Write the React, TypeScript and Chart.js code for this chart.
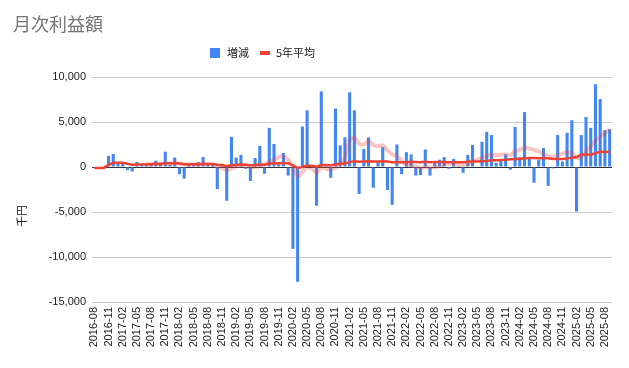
import { useEffect, useRef } from 'react';
import { Chart, registerables } from 'chart.js';

Chart.register(...registerables);

const months = [
  '2016-08', '2016-09', '2016-10', '2016-11', '2016-12',
  '2017-01', '2017-02', '2017-03', '2017-04', '2017-05', '2017-06', '2017-07', '2017-08', '2017-09', '2017-10', '2017-11', '2017-12',
  '2018-01', '2018-02', '2018-03', '2018-04', '2018-05', '2018-06', '2018-07', '2018-08', '2018-09', '2018-10', '2018-11', '2018-12',
  '2019-01', '2019-02', '2019-03', '2019-04', '2019-05', '2019-06', '2019-07', '2019-08', '2019-09', '2019-10', '2019-11', '2019-12',
  '2020-01', '2020-02', '2020-03', '2020-04', '2020-05', '2020-06', '2020-07', '2020-08', '2020-09', '2020-10', '2020-11', '2020-12',
  '2021-01', '2021-02', '2021-03', '2021-04', '2021-05', '2021-06', '2021-07', '2021-08', '2021-09', '2021-10', '2021-11', '2021-12',
  '2022-01', '2022-02', '2022-03', '2022-04', '2022-05', '2022-06', '2022-07', '2022-08', '2022-09', '2022-10', '2022-11', '2022-12',
  '2023-01', '2023-02', '2023-03', '2023-04', '2023-05', '2023-06', '2023-07', '2023-08', '2023-09', '2023-10', '2023-11', '2023-12',
  '2024-01', '2024-02', '2024-03', '2024-04', '2024-05', '2024-06', '2024-07', '2024-08', '2024-09', '2024-10', '2024-11', '2024-12',
  '2025-01', '2025-02', '2025-03', '2025-04', '2025-05', '2025-06', '2025-07', '2025-08', '2025-09',
];

// 増減 (千円)
const change = [
  -100, -100, -100, 1250, 1450, 350, 450, -350, -500, 550,
  300, 400, 300, 700, 500, 1700, 250, 1050, -800, -1300,
  350, 200, 550, 1100, 250, 350, -2450, 200, -3750, 3350,
  1050, 1350, -200, -1550, 1000, 2350, -750, 4350, 2550, 400,
  1550, -950, -9100, -12750, 4500, 6300, 100, -4300, 8400, 150,
  -1200, 6500, 2400, 3300, 8300, 6300, -3000, 2000, 3300, -2300,
  600, 2200, -2550, -4200, 2500, -800, 1650, 1400, -950, -900,
  1950, -950, 500, 800, 1100, -200, 900, 100, -650, 1350,
  2450, 0, 2800, 3900, 3550, 450, 800, 1400, -300, 4450,
  1100, 6100, 1000, -1750, 800, 2100, -2100, -150, 3550, 600,
  3800, 5200, -4950, 3550, 5550, 4350, 9200, 7550, 4100, 4200,
];

// 5年平均 (千円)
const avg5 = [
  -100, -100, -100, 250, 480, 460, 460, 360, 260, 290,
  290, 300, 300, 330, 340, 430, 420, 450, 380, 300,
  300, 300, 310, 340, 340, 340, 240, 230, 100, 200,
  230, 270, 250, 200, 230, 280, 250, 360, 420, 420,
  450, 410, 190, -100, 0, 140, 140, 40, 210, 210,
  180, 310, 350, 400, 540, 650, 580, 610, 650, 600,
  620, 650, 610, 520, 540, 520, 540, 570, 560, 540,
  570, 540, 550, 550, 560, 530, 540, 520, 520, 570,
  600, 600, 640, 680, 740, 740, 790, 810, 870, 890,
  890, 970, 990, 990, 980, 980, 960, 880, 900, 900,
  940, 1040, 1110, 1380, 1400, 1370, 1520, 1720, 1650, 1710,
];

// light moving-average trend line (千円)
const trend = [
  null, null, null, null, null, null, null, null, null, null,
  null, 300, 330, 400, 340, 360, 350, 400, 360, 300,
  280, 270, 280, 350, 310, 300, 0, -100, -350, -150,
  50, 150, 150, 0, 0, 150, 250, 550, 800, 1100,
  1200, 800, 50, -1050, -550, -50, -200, -600, -100, -200,
  -250, -100, 250, 1050, 2900, 3250, 2600, 2500, 2850, 2450,
  2300, 2400, 1850, 1400, 1200, 700, 250, 150, 50, -100,
  0, -50, -50, 100, 350, 350, 300, 300, 200, 350,
  600, 800, 1000, 1250, 1350, 1300, 1350, 1400, 1350, 1750,
  1900, 2150, 2050, 1900, 1700, 1450, 1200, 1100, 1300, 1450,
  1650, 1500, 1000, 1100, 1700, 2300, 2900, 3400, 3800, 4150,
];

const yTicks = [-15000, -10000, -5000, 0, 5000, 10000];

const FONT = '"Liberation Sans", Arial, "Noto Sans CJK JP", sans-serif';
const CJK = '"Noto Sans CJK JP", "Liberation Sans", sans-serif';

export default function App() {
  const ref = useRef<HTMLCanvasElement>(null);

  useEffect(() => {
    document.body.style.margin = '0';
    const decor = {
      id: 'decor',
      afterDraw(chart: any) {
        const c = chart.ctx;
        c.save();
        c.font = '18px ' + CJK;
        c.fillStyle = '#757575';
        c.textBaseline = 'middle';
        c.textAlign = 'left';
        c.fillText('月次利益額', 13, 24);

        c.font = '11px ' + CJK;
        c.fillStyle = '#4285F4';
        c.fillRect(210, 48, 10, 10);
        c.fillStyle = '#222222';
        c.fillText('増減', 227, 53);
        c.fillStyle = '#EA4335';
        c.fillRect(260, 51, 10, 4);
        c.fillStyle = '#222222';
        c.fillText('5年平均', 276, 53);

        c.translate(22, 216);
        c.rotate(-Math.PI / 2);
        c.textAlign = 'center';
        c.fillText('千円', 0, 0);
        c.restore();
      },
    };

    const chart = new Chart(ref.current as HTMLCanvasElement, {
      type: 'bar',
      data: {
        labels: months,
        datasets: [
          {
            type: 'line',
            label: '5年平均',
            data: avg5,
            borderColor: '#EA4335',
            borderWidth: 2.5,
            pointRadius: 0,
            tension: 0,
            order: 1,
          },
          {
            type: 'line',
            label: 'trend',
            data: trend as any,
            borderColor: 'rgba(234,67,53,0.3)',
            borderWidth: 4,
            pointRadius: 0,
            tension: 0.4,
            order: 2,
          },
          {
            type: 'bar',
            label: '増減',
            data: change,
            backgroundColor: '#4285F4',
            barPercentage: 0.65,
            categoryPercentage: 1,
            order: 3,
          },
        ] as any,
      },
      options: {
        responsive: false,
        animation: false,
        layout: { padding: { top: 77, right: 17, left: 0, bottom: 0 } },
        plugins: {
          legend: { display: false },
          title: { display: false },
          tooltip: { enabled: false },
        },
        scales: {
          x: {
            grid: { display: false, drawTicks: false },
            border: { display: false },
            ticks: {
              autoSkip: false,
              minRotation: 90,
              maxRotation: 90,
              padding: 5,
              color: '#222222',
              font: { family: FONT, size: 11 },
              callback: (_v: any, i: number) => (i % 3 === 0 ? months[i] : ''),
            },
            afterFit: (s: any) => {
              s.height = 66;
            },
          },
          y: {
            min: -15000,
            max: 10000,
            afterBuildTicks: (s: any) => {
              s.ticks = yTicks.map((v) => ({ value: v }));
            },
            grid: {
              drawTicks: false,
              color: (ctx: any) => (ctx.tick && ctx.tick.value === 0 ? '#333333' : '#cccccc'),
              lineWidth: 1,
            },
            border: { display: false },
            ticks: {
              padding: 6,
              color: '#222222',
              font: { family: FONT, size: 11 },
              callback: (v: any) => Number(v).toLocaleString('en-US'),
            },
            afterFit: (s: any) => {
              s.width = 92;
            },
          },
        },
      },
      plugins: [decor],
    });
    return () => chart.destroy();
  }, []);

  return (
    <div style={{ position: 'absolute', left: 0, top: 0, width: 629, height: 368, background: '#fff' }}>
      <canvas ref={ref} width={629} height={368} style={{ display: 'block' }} />
    </div>
  );
}
